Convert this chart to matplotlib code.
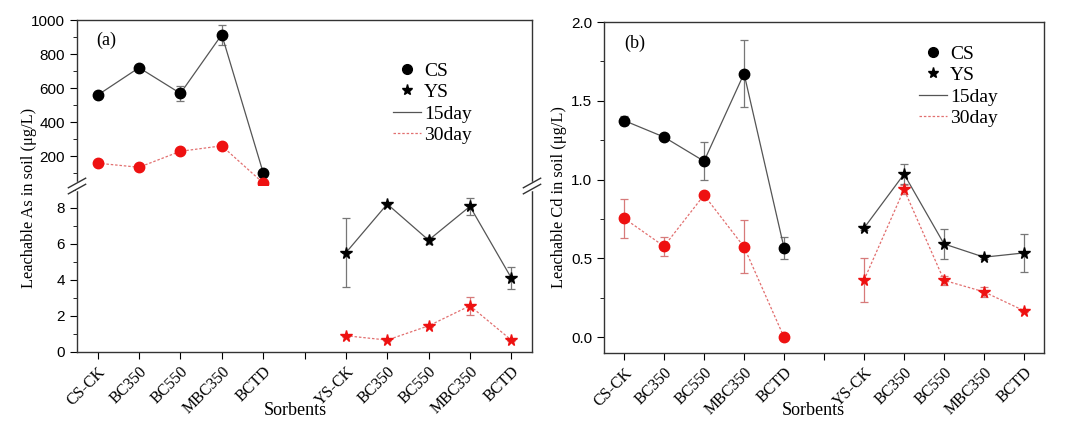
import matplotlib
matplotlib.use('Agg')
import matplotlib.pyplot as plt
from matplotlib.lines import Line2D
from matplotlib.ticker import MultipleLocator

plt.rcParams['font.family'] = ['Liberation Serif', 'DejaVu Serif']

# categories (x = 1..5 for CS soil, 7..11 for YS soil, 6 left empty)
labels = ['CS-CK', 'BC350', 'BC550', 'MBC350', 'BCTD', '',
          'YS-CK', 'BC350', 'BC550', 'MBC350', 'BCTD']
x_cs = [1, 2, 3, 4, 5]
x_ys = [7, 8, 9, 10, 11]

# (a) leachable As, ug/L
as_cs_15 = [559, 720, 569, 914, 104]
as_cs_15_err = [8, 10, 43, 58, 6]
as_cs_30 = [159, 135, 229, 261, 43]
as_cs_30_err = [5, 5, 6, 6, 3]
as_ys_15 = [5.5, 8.2, 6.2, 8.07, 4.1]
as_ys_15_err = [1.9, 0.08, 0.2, 0.47, 0.6]
as_ys_30 = [0.9, 0.66, 1.45, 2.56, 0.66]
as_ys_30_err = [0.05, 0.05, 0.08, 0.5, 0.05]

# (b) leachable Cd, ug/L
cd_cs_15 = [1.375, 1.27, 1.117, 1.673, 0.567]
cd_cs_15_err = [0.03, 0.02, 0.12, 0.21, 0.07]
cd_cs_30 = [0.755, 0.577, 0.902, 0.573, 0.0]
cd_cs_30_err = [0.125, 0.06, 0.01, 0.168, 0.005]
cd_ys_15 = [0.693, 1.035, 0.592, 0.508, 0.535]
cd_ys_15_err = [0.01, 0.063, 0.094, 0.01, 0.12]
cd_ys_30 = [0.363, 0.938, 0.361, 0.288, 0.168]
cd_ys_30_err = [0.14, 0.03, 0.03, 0.03, 0.01]

BLACK_LINE = '#555555'
RED = '#ee1111'
RED_LINE = '#e27070'
sans = 'Liberation Sans'


def series(ax, x, y, err, marker, day):
    ms = 8.5 if marker == '*' else 7.5
    if day == 15:
        ax.errorbar(x, y, yerr=err, color=BLACK_LINE, ecolor='#777777', lw=0.9,
                    elinewidth=0.9, capsize=3, capthick=0.9, marker=marker,
                    mfc='black', mec='black', ms=ms, zorder=3)
    else:
        ax.errorbar(x, y, yerr=err, color=RED_LINE, ecolor='#d77a7a', lw=0.9,
                    ls=(0, (2, 1.5)), elinewidth=0.9, capsize=3, capthick=0.9,
                    marker=marker, mfc=RED, mec=RED, ms=ms, zorder=3)


def style(ax):
    ax.tick_params(axis='y', which='both', direction='out', right=False,
                   labelsize=11, labelfontfamily=sans)
    ax.tick_params(axis='y', which='major', length=5)
    ax.tick_params(axis='y', which='minor', length=3)
    ax.tick_params(axis='x', direction='out', top=False, length=5)
    for s in ax.spines.values():
        s.set_linewidth(1.0)
        s.set_color('#333333')


def xaxis(ax):
    ax.set_xlim(0.5, 11.5)
    ax.set_xticks(range(1, 12))
    ax.set_xticklabels(labels, rotation=45, ha='right', rotation_mode='anchor',
                       fontsize=11.5)


def legend(x, y):
    handles = [Line2D([], [], ls='none', marker='o', color='black', ms=7),
               Line2D([], [], ls='none', marker='*', color='black', ms=8),
               Line2D([], [], color=BLACK_LINE, lw=0.9),
               Line2D([], [], color=RED_LINE, lw=0.9, ls=(0, (2, 1.5)))]
    fig.legend(handles, ['CS', 'YS', '15day', '30day'], loc='upper left',
               bbox_to_anchor=(x, y), frameon=False, fontsize=14,
               handlelength=1.45, handletextpad=0.15, labelspacing=0.2,
               borderpad=0, borderaxespad=0)


fig = plt.figure(figsize=(10.8, 4.34), dpi=100)

# ---- panel (a), broken y axis ----
L, W = 0.0713, 0.4213
BRK, BOT, TOP = 0.5714, 0.189, 0.9539
ax_t = fig.add_axes([L, BRK, W, TOP - BRK])
ax_b = fig.add_axes([L, BOT, W, BRK - BOT])

series(ax_t, x_cs, as_cs_15, as_cs_15_err, 'o', 15)
series(ax_t, x_cs, as_cs_30, as_cs_30_err, 'o', 30)
series(ax_b, x_ys, as_ys_15, as_ys_15_err, '*', 15)
series(ax_b, x_ys, as_ys_30, as_ys_30_err, '*', 30)

ax_t.set_ylim(25, 1000)
ax_t.set_yticks([200, 400, 600, 800, 1000])
ax_t.yaxis.set_minor_locator(MultipleLocator(100))
ax_t.set_xlim(0.5, 11.5)
ax_t.spines['bottom'].set_visible(False)
ax_t.tick_params(axis='x', bottom=False, labelbottom=False)
ax_b.set_ylim(0, 9.2)
ax_b.set_yticks([0, 2, 4, 6, 8])
ax_b.yaxis.set_minor_locator(MultipleLocator(1))
ax_b.spines['top'].set_visible(False)
xaxis(ax_b)
style(ax_t)
style(ax_b)
ax_t.text(0.042, 0.88, '(a)', transform=ax_t.transAxes, fontsize=13,
          va='center')

# break marks on both side spines
for xs in (L, L + W):
    fig.add_artist(Line2D([xs, xs], [BRK - 0.007, BRK + 0.007],
                          color='white', lw=2.5))
    for dy in (-0.007, 0.007):
        fig.add_artist(Line2D([xs - 0.008, xs + 0.008],
                              [BRK + dy - 0.011, BRK + dy + 0.011],
                              color='#333333', lw=1.0))

fig.text(0.027, 0.545, 'Leachable As in soil (μg/L)', rotation=90,
         ha='center', va='center', fontsize=11.8)
fig.text(0.273, 0.053, 'Sorbents', ha='center', va='center', fontsize=13)
legend(0.364, 0.857)

# ---- panel (b) ----
ax2 = fig.add_axes([0.5593, 0.1866, 0.4074, 0.7627])
series(ax2, x_cs, cd_cs_15, cd_cs_15_err, 'o', 15)
series(ax2, x_cs, cd_cs_30, cd_cs_30_err, 'o', 30)
series(ax2, x_ys, cd_ys_15, cd_ys_15_err, '*', 15)
series(ax2, x_ys, cd_ys_30, cd_ys_30_err, '*', 30)
ax2.set_ylim(-0.1, 2.0)
ax2.set_yticks([0.0, 0.5, 1.0, 1.5, 2.0])
ax2.set_yticklabels(['0.0', '0.5', '1.0', '1.5', '2.0'])
ax2.yaxis.set_minor_locator(MultipleLocator(0.25))
xaxis(ax2)
style(ax2)
ax2.text(0.045, 0.935, '(b)', transform=ax2.transAxes, fontsize=13,
         va='center')
fig.text(0.518, 0.545, 'Leachable Cd in soil (μg/L)', rotation=90,
         ha='center', va='center', fontsize=11.8)
fig.text(0.753, 0.053, 'Sorbents', ha='center', va='center', fontsize=13)
legend(0.851, 0.896)

fig.savefig('out.png', dpi=100)
